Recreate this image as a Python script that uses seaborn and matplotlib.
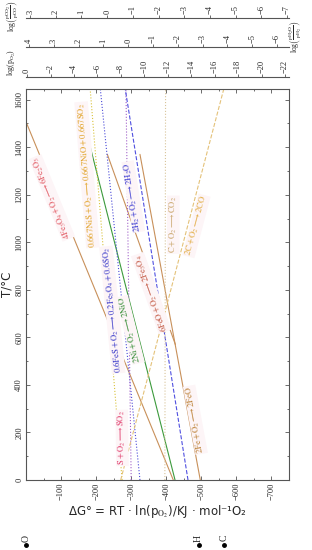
import numpy as np
import pandas as pd
import matplotlib
matplotlib.use("Agg")
import matplotlib.pyplot as plt
import seaborn as sns
from matplotlib.ticker import MultipleLocator

# Ellingham lines, dG (kJ per mol O2) read at the two end temperatures (°C)
reactions = [
    r"$\mathrm{4Fe_3O_4+O_2\longrightarrow 6Fe_2O_3}$",
    r"$\mathrm{6FeO+O_2\longrightarrow 2Fe_3O_4}$",
    r"$\mathrm{2Fe+O_2\longrightarrow 2FeO}$",
    r"$\mathrm{2Ni+O_2\longrightarrow 2NiO}$",
    r"$\mathrm{0.667NiS+O_2\longrightarrow 0.667NiO+0.667SO_2}$",
    r"$\mathrm{0.6FeS+O_2\longrightarrow 0.2Fe_3O_4+0.6SO_2}$",
    r"$\mathrm{S+O_2\longrightarrow SO_2}$",
    r"$\mathrm{2H_2+O_2\longrightarrow 2H_2O}$",
    r"$\mathrm{C+O_2\longrightarrow CO_2}$",
    r"$\mathrm{2C+O_2\longrightarrow 2CO}$",
]
t_start = [0, 570, 0, 0, 0, 0, 0, 0, 0, 0]
t_end = [1500, 1370, 1370, 1420, 1645, 1645, 1645, 1645, 1645, 1645]
dg_start = [-420, -426, -497, -425, -274, -325, -300, -462, -396, -270]
dg_end = [-2, -232, -325, -180, -183, -212, -285, -283, -398, -564]

# where each reaction label sits (dG, T)
label_dg = [-74, -357, -483, -297, -174, -246, -274, -306, -420, -486]
label_t = [1187, 787, 253, 632, 1284, 716, 177, 1192, 1074, 1069]

# nomogram pivot points at 0 K
point_names = ["O", "H", "C"]
point_dg = [0, -492, -566]
point_t = [-273, -273, -273]

# side scales
po2_ticks = [0, -2, -4, -6, -8, -10, -12, -14, -16, -18, -20, -22]
h2o_ticks = [4, 3, 2, 1, 0, -1, -2, -3, -4, -5, -6]
co_ticks = [3, 2, 1, 0, -1, -2, -3, -4, -5, -6, -7]

line_colors = ['#c8905a', '#c8905a', '#c8905a', '#3c9a3c', '#d9c23a',
               '#4a4ad8', '#a060c8', '#5050e0', '#d8c49a', '#e4c27a']
line_styles = ['-', '-', '-', '-', ':', ':', ':', '--', ':', '--']
text_colors = ['#e0505a', '#c0503a', '#b87a2a', '#2e8a2e', '#e0a020',
               '#3434c8', '#e03c6c', '#3434d0', '#c8a468', '#e0a838']

sns.set_style("ticks")
plt.rcParams['font.family'] = 'serif'
plt.rcParams['font.serif'] = ['Liberation Serif', 'DejaVu Serif']
plt.rcParams['mathtext.fontset'] = 'stix'

W, H = 312, 550
fig = plt.figure(figsize=(3.12, 5.5), dpi=100)
ax = fig.add_axes([26 / W, 1 - 480 / H, 263 / W, 391 / H])

ax.set_xlim(0, -750)
ax.set_ylim(0, 1645)

for i, r in enumerate(reactions):
    df = pd.DataFrame({'dG': [dg_start[i], dg_end[i]], 'T': [t_start[i], t_end[i]]})
    sns.lineplot(data=df, x='dG', y='T', sort=False, estimator=None,
                 color=line_colors[i], linestyle=line_styles[i], linewidth=0.8, ax=ax)

for i, r in enumerate(reactions):
    p0 = ax.transData.transform((dg_start[i], t_start[i]))
    p1 = ax.transData.transform((dg_end[i], t_end[i]))
    ang = np.degrees(np.arctan2(p1[1] - p0[1], p1[0] - p0[0]))
    ax.text(label_dg[i], label_t[i], r, rotation=ang, rotation_mode='anchor',
            ha='center', va='center', fontsize=6.2, color=text_colors[i],
            bbox=dict(boxstyle='square,pad=0.08', fc='#fdf5f7', ec='none'))

ax.plot(point_dg, point_t, 'o', ms=2.5, color='k', clip_on=False)
for n, d, t in zip(point_names, point_dg, point_t):
    ax.text(d, t + 28, n, rotation=90, ha='center', va='center', fontsize=7, clip_on=False)

ax.set_xticks([-100, -200, -300, -400, -500, -600, -700])
ax.xaxis.set_minor_locator(MultipleLocator(50))
ax.set_yticks([0, 200, 400, 600, 800, 1000, 1200, 1400, 1600])
ax.yaxis.set_minor_locator(MultipleLocator(100))
ax.tick_params(which='both', direction='in', top=True, right=True, color='#555555', width=0.6)
ax.tick_params(which='major', length=3, labelsize=6, pad=2)
ax.tick_params(which='minor', length=1.5)
ax.tick_params(axis='both', labelrotation=90)
for lab in ax.get_yticklabels():
    lab.set_va('center')
for s in ax.spines.values():
    s.set_color('#555555')
    s.set_linewidth(0.8)

ax.set_xlabel("ΔG° = RT · ln(p$_{\\mathrm{O_2}}$)/KJ · mol⁻¹O₂",
              family='DejaVu Sans', fontsize=8.5, labelpad=2)
ax.set_ylabel("T/°C", family='DejaVu Sans', fontsize=8.5, labelpad=1)


def draw_scale(y_px, ticks, lims):
    sax = fig.add_axes([26 / W, 1 - y_px / H, 263 / W, 0.0001])
    sax.set_xlim(*lims)
    sax.set_xticks(ticks)
    sax.set_yticks([])
    for s in ['left', 'right', 'bottom']:
        sax.spines[s].set_visible(False)
    sax.spines['top'].set_color('#555555')
    sax.spines['top'].set_linewidth(0.8)
    sax.xaxis.set_ticks_position('top')
    sax.tick_params(axis='x', direction='out', length=2, width=0.6, color='#555555',
                    labelsize=6, labelrotation=90, pad=1)
    sax.patch.set_visible(False)
    return sax


draw_scale(77, po2_ticks, (0.09, -22.34))
draw_scale(47, h2o_ticks, (4.12, -6.48))
draw_scale(18, co_ticks, (3.16, -7.08))

fig.text(12 / W, 1 - 63 / H, r"log(p$_{\mathrm{O_2}}$)", rotation=90, ha='center', va='center', fontsize=5.5)
fig.text(12 / W, 1 - 16 / H, r"log$\left(\frac{\mathrm{pCO_2}}{\mathrm{pCO}}\right)$",
         rotation=90, ha='center', va='center', fontsize=5.5)
fig.text(295 / W, 1 - 37 / H, r"log$\left(\frac{\mathrm{pH_2O}}{\mathrm{pH_2}}\right)$",
         rotation=90, ha='center', va='center', fontsize=5.5)

fig.savefig('out.png', dpi=100)
